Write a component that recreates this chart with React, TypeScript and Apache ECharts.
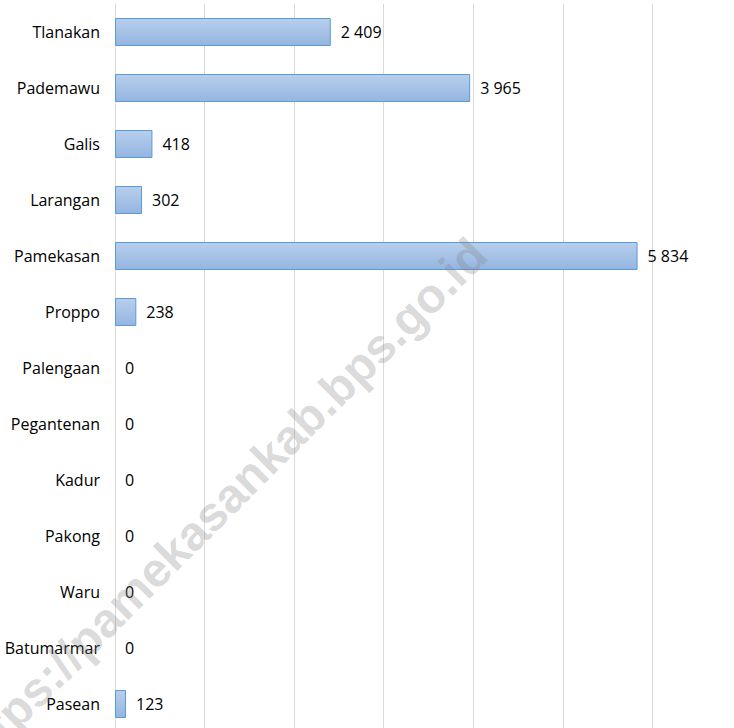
import React, { useEffect, useRef } from "react";
import * as echarts from "echarts";

const categories = [
  "Tlanakan",
  "Pademawu",
  "Galis",
  "Larangan",
  "Pamekasan",
  "Proppo",
  "Palengaan",
  "Pegantenan",
  "Kadur",
  "Pakong",
  "Waru",
  "Batumarmar",
  "Pasean",
];
const values = [2409, 3965, 418, 302, 5834, 238, 0, 0, 0, 0, 0, 0, 123];
const axisMax = 7000;
const axisInterval = 1000;
const watermark = "https://pamekasankab.bps.go.id";

const fmt = (v: number) => String(v).replace(/\B(?=(\d{3})+(?!\d))/g, " ");

export default function App() {
  const ref = useRef<HTMLDivElement>(null);
  useEffect(() => {
    if (!ref.current) return;
    const chart = echarts.init(ref.current, null, { renderer: "svg" });
    const font = '"Open Sans", "Noto Sans", sans-serif';
    chart.setOption({
      animation: false,
      backgroundColor: "#ffffff",
      grid: { left: 115, top: 4, width: 627, height: 728, containLabel: false },
      xAxis: {
        type: "value",
        min: 0,
        max: axisMax,
        interval: axisInterval,
        axisLabel: { show: false },
        axisLine: { show: false },
        axisTick: { show: false },
        splitLine: { show: true, lineStyle: { color: "#d9d9d9", width: 1 } },
      },
      yAxis: {
        type: "category",
        data: categories,
        inverse: true,
        axisTick: { show: false },
        axisLine: { show: true, lineStyle: { color: "#d9d9d9", width: 1 } },
        axisLabel: { margin: 15, color: "#000000", fontSize: 16, fontFamily: font },
      },
      series: [
        {
          type: "bar",
          data: values.map((v) =>
            v === 0 ? { value: v, itemStyle: { borderWidth: 0 } } : v
          ),
          barCategoryGap: "50%",
          itemStyle: {
            color: new echarts.graphic.LinearGradient(0, 0, 0, 1, [
              { offset: 0, color: "#b8cfeb" },
              { offset: 1, color: "#94b5e1" },
            ]),
            borderColor: "#5b9bd5",
            borderWidth: 1,
          },
          label: {
            show: true,
            position: "right",
            distance: 10,
            color: "#000000",
            fontSize: 16,
            fontFamily: font,
            formatter: (p: any) => fmt(p.value),
          },
        },
      ],
      graphic: [
        {
          type: "text",
          x: 220,
          y: 505,
          rotation: Math.PI / 4,
          z: 100,
          silent: true,
          style: {
            text: watermark,
            font: 'bold 48px "Liberation Sans", Arial, sans-serif',
            fill: "rgba(130,130,130,0.3)",
            textAlign: "center",
            textVerticalAlign: "middle",
          },
        },
      ],
    });
    return () => chart.dispose();
  }, []);
  return (
    <div
      style={{
        position: "fixed",
        left: 0,
        top: 0,
        width: 734,
        height: 728,
        overflow: "hidden",
        background: "#fff",
      }}
    >
      <div ref={ref} style={{ width: 760, height: 740 }} />
    </div>
  );
}
